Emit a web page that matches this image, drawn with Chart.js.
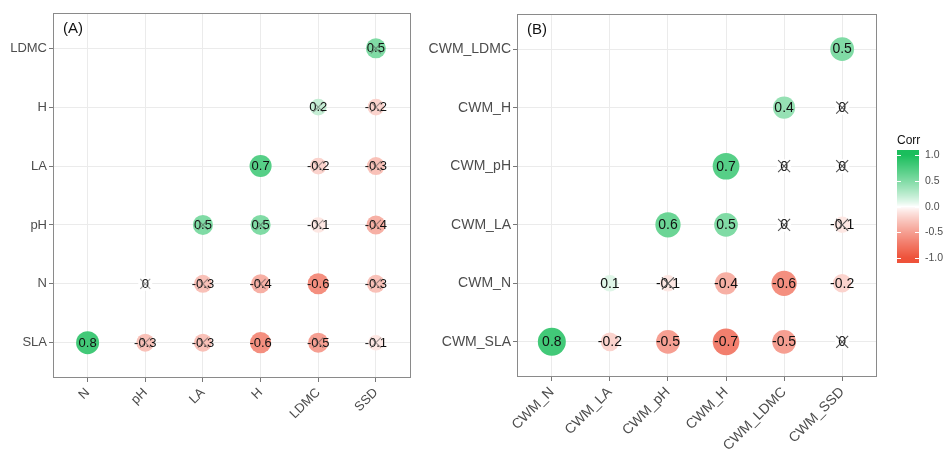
<!DOCTYPE html>
<html>
<head>
<meta charset="utf-8">
<script src="https://cdn.jsdelivr.net/npm/chart.js@4.4.0/dist/chart.umd.min.js"></script>
<style>
  body { margin: 0; background: #fff; width: 949px; height: 452px; overflow: hidden; position: relative; }
  #chartA { position: absolute; left: 0; top: 0; }
  #chartB { position: absolute; left: 415px; top: 0; }
</style>
</head>
<body>
<canvas id="chartA" width="422" height="452"></canvas>
<canvas id="chartB" width="534" height="452"></canvas>
<script>
// ---- dados ----
const eixoX_A = ["N", "pH", "LA", "H", "LDMC", "SSD"];
const eixoY_A = ["SLA", "N", "pH", "LA", "H", "LDMC"];   // de baixo para cima
const corrA = [
  [0.8, -0.3, -0.3, -0.6, -0.5, -0.1],   // SLA
  [null, 0, -0.3, -0.4, -0.6, -0.3],     // N
  [null, null, 0.5, 0.5, -0.1, -0.4],    // pH
  [null, null, null, 0.7, -0.2, -0.3],   // LA
  [null, null, null, null, 0.2, -0.2],   // H
  [null, null, null, null, null, 0.5]    // LDMC
];
// 1 = não significativo (marcado com X)
const insigA = [
  [0, 1, 1, 0, 1, 1],
  [0, 1, 1, 1, 0, 1],
  [0, 0, 1, 1, 1, 1],
  [0, 0, 0, 0, 1, 1],
  [0, 0, 0, 0, 1, 1],
  [0, 0, 0, 0, 0, 1]
];

const eixoX_B = ["CWM_N", "CWM_LA", "CWM_pH", "CWM_H", "CWM_LDMC", "CWM_SSD"];
const eixoY_B = ["CWM_SLA", "CWM_N", "CWM_LA", "CWM_pH", "CWM_H", "CWM_LDMC"];
const corrB = [
  [0.8, -0.2, -0.5, -0.7, -0.5, 0],      // CWM_SLA
  [null, 0.1, -0.1, -0.4, -0.6, -0.2],   // CWM_N
  [null, null, 0.6, 0.5, 0, -0.1],       // CWM_LA
  [null, null, null, 0.7, 0, 0],         // CWM_pH
  [null, null, null, null, 0.4, 0],      // CWM_H
  [null, null, null, null, null, 0.5]    // CWM_LDMC
];
const insigB = [
  [0, 0, 0, 0, 0, 1],
  [0, 0, 1, 0, 0, 0],
  [0, 0, 0, 0, 1, 1],
  [0, 0, 0, 0, 1, 1],
  [0, 0, 0, 0, 0, 1],
  [0, 0, 0, 0, 0, 0]
];

const legendaTicks = [1.0, 0.5, 0.0, -0.5, -1.0];

// ---- cores ----
const corAlta = [26, 190, 92];
const corBaixa = [238, 82, 58];

function corCorr(v) {
  const t = Math.pow(Math.min(1, Math.abs(v)), 0.85);
  const c = v >= 0 ? corAlta : corBaixa;
  const r = Math.round(255 + (c[0] - 255) * t);
  const g = Math.round(255 + (c[1] - 255) * t);
  const b = Math.round(255 + (c[2] - 255) * t);
  return "rgb(" + r + "," + g + "," + b + ")";
}

function montaPontos(corr, insig) {
  const pts = [];
  for (let i = 0; i < corr.length; i++) {
    for (let j = 0; j < corr[i].length; j++) {
      if (corr[i][j] === null) continue;
      pts.push({ x: j, y: i, v: corr[i][j], ns: insig[i][j] === 1 });
    }
  }
  return pts;
}

Chart.defaults.font.family = "'Liberation Sans', Arial, sans-serif";

const celulas = {
  id: "celulas",
  afterDatasetsDraw(chart, args, op) {
    const ctx = chart.ctx;
    const meta = chart.getDatasetMeta(0);
    const dados = chart.data.datasets[0].data;
    ctx.save();
    meta.data.forEach((el, i) => {
      const d = dados[i];
      const txt = d.v === 0 ? "0" : d.v.toFixed(1);
      ctx.fillStyle = "#111";
      ctx.font = op.fonte + "px 'Liberation Sans', Arial, sans-serif";
      ctx.textAlign = "center";
      ctx.textBaseline = "middle";
      ctx.fillText(txt, el.x, el.y + 0.5);
      if (d.ns) {
        const s = op.cruz;
        ctx.strokeStyle = op.corCruz;
        ctx.lineWidth = 1.1;
        ctx.beginPath();
        ctx.moveTo(el.x - s, el.y - s); ctx.lineTo(el.x + s, el.y + s);
        ctx.moveTo(el.x + s, el.y - s); ctx.lineTo(el.x - s, el.y + s);
        ctx.stroke();
      }
    });
    ctx.restore();
  },
  afterDraw(chart, args, op) {
    const ctx = chart.ctx;
    const a = chart.chartArea;
    ctx.save();
    ctx.strokeStyle = "#8a8a8a";
    ctx.lineWidth = 1;
    ctx.strokeRect(Math.round(a.left) + 0.5, Math.round(a.top) + 0.5,
      Math.round(a.right - a.left) - 1, Math.round(a.bottom - a.top) - 1);
    ctx.fillStyle = "#111";
    ctx.font = "15px 'Liberation Sans', Arial, sans-serif";
    ctx.textAlign = "left";
    ctx.textBaseline = "middle";
    ctx.fillText(op.tag, a.left + 10, a.top + 16);

    if (op.barra) {
      const bx = 482, bw = 22, top = 150, bot = 263;
      const meio = 206.5, esc = 51.5;
      for (let y = top; y < bot; y++) {
        const v = Math.max(-1, Math.min(1, (meio - (y + 0.5)) / esc));
        ctx.fillStyle = corCorr(v);
        ctx.fillRect(bx, y, bw, 1);
      }
      ctx.strokeStyle = "#fff";
      ctx.lineWidth = 1;
      ctx.font = "10.5px 'Liberation Sans', Arial, sans-serif";
      legendaTicks.forEach(t => {
        const y = Math.round(meio - t * esc) + 0.5;
        ctx.beginPath();
        ctx.moveTo(bx, y); ctx.lineTo(bx + 4, y);
        ctx.moveTo(bx + bw - 4, y); ctx.lineTo(bx + bw, y);
        ctx.stroke();
        ctx.fillStyle = "#4d4d4d";
        ctx.fillText(t.toFixed(1), bx + bw + 6, y);
      });
      ctx.fillStyle = "#111";
      ctx.font = "12px 'Liberation Sans', Arial, sans-serif";
      ctx.fillText("Corr", bx, 141);
    }
    ctx.restore();
  }
};

function desenha(id, eixoX, eixoY, corr, insig, cfg) {
  const pontos = montaPontos(corr, insig);
  const maxAbs = 0.8;
  const raio = c => Math.sqrt(cfg.rMin * cfg.rMin + (cfg.rMax * cfg.rMax - cfg.rMin * cfg.rMin) * Math.abs(c.raw.v) / maxAbs);
  return new Chart(id, {
    type: "scatter",
    data: {
      datasets: [{
        data: pontos,
        backgroundColor: c => corCorr(c.raw.v),
        borderWidth: 0,
        pointRadius: raio,
        pointHoverRadius: raio
      }]
    },
    options: {
      responsive: false,
      animation: false,
      layout: { padding: cfg.padding },
      plugins: {
        legend: { display: false },
        tooltip: { enabled: false },
        celulas: { tag: cfg.tag, fonte: cfg.fonte, cruz: cfg.cruz, corCruz: cfg.corCruz, barra: cfg.barra }
      },
      scales: {
        x: {
          type: "linear", min: -0.6, max: 5.6,
          afterBuildTicks: s => { s.ticks = eixoX.map((_, i) => ({ value: i })); },
          afterFit: s => { s.height = cfg.altX; },
          ticks: {
            callback: v => eixoX[Math.round(v)],
            color: "#4d4d4d", font: { size: cfg.fonteEixo },
            minRotation: 45, maxRotation: 45, padding: 3, autoSkip: false
          },
          grid: { color: "#ebebeb", tickColor: "#777", tickLength: 4 },
          border: { display: false }
        },
        y: {
          type: "linear", min: -0.6, max: 5.6,
          afterBuildTicks: s => { s.ticks = eixoY.map((_, i) => ({ value: i })); },
          afterFit: s => { s.width = cfg.largY; },
          ticks: {
            callback: v => eixoY[Math.round(v)],
            color: "#4d4d4d", font: { size: cfg.fonteEixo }, padding: 2, autoSkip: false
          },
          grid: { color: "#ebebeb", tickColor: "#777", tickLength: 4 },
          border: { display: false }
        }
      }
    },
    plugins: [celulas]
  });
}

desenha("chartA", eixoX_A, eixoY_A, corrA, insigA, {
  tag: "(A)", fonte: 13, fonteEixo: 13, cruz: 5, corCruz: "rgba(70,70,70,0.5)",
  rMin: 7, rMax: 11.5, altX: 74, largY: 53,
  padding: { top: 13, right: 5, left: 0, bottom: 0 }, barra: false
});

desenha("chartB", eixoX_B, eixoY_B, corrB, insigB, {
  tag: "(B)", fonte: 14, fonteEixo: 14, cruz: 6, corCruz: "#555",
  rMin: 7, rMax: 14, altX: 75, largY: 102,
  padding: { top: 14, right: 72, left: 0, bottom: 0 }, barra: true
});
</script>
</body>
</html>
